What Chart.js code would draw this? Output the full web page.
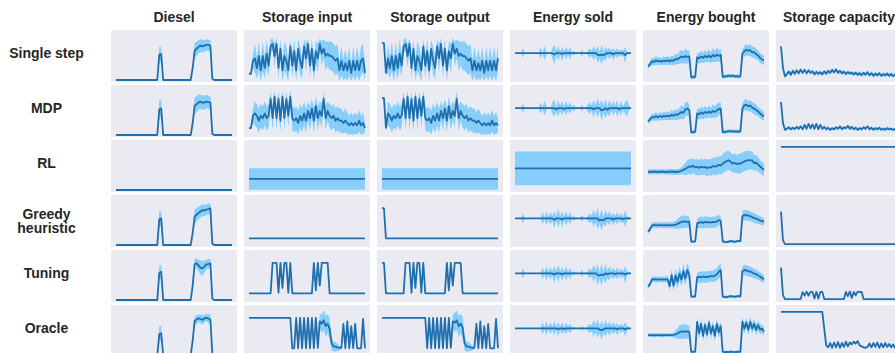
<!DOCTYPE html>
<html>
<head>
<meta charset="utf-8">
<script src="https://cdn.jsdelivr.net/npm/chart.js"></script>
<style>
  body { margin: 0; background: #fff; width: 895px; height: 353px; overflow: hidden; position: relative;
         font-family: "Liberation Sans", Arial, Helvetica, sans-serif; color: #262626; }
  .panel { position: absolute; background: #eaeaf2; }
  .panel canvas { position: absolute; left: 0; top: 0; }
  .coltitle { position: absolute; font-weight: bold; font-size: 14px; line-height: 16px; text-align: center; white-space: nowrap; }
  .rowlabel { position: absolute; left: 0; width: 93px; font-weight: bold; font-size: 14px; line-height: 14px; text-align: center; white-space: pre; }
</style>
</head>
<body>
<script>
// rows and columns of the grid
const methods = ['Single step', 'MDP', 'RL', 'Greedy\nheuristic', 'Tuning', 'Oracle'];
const quantities = ['Diesel', 'Storage input', 'Storage output', 'Energy sold', 'Energy bought', 'Storage capacity'];

// mean curves and band half-widths per quantity, one row per method (60 time steps)
const dieselMean = [
  [0,0,0,0,0,0,0,0,0,0, 0,0,0,0,0,0,0,0,0,0, 0,0,10.5,10.8,0,0,0,0,0,0, 0,0,0,0,0,0,0,0,0,5, 12.2,13,13.8,14.4,14,14.3,14.6,14.6,14.3,0.5, 0,0,0,0,0,0,0,0,0,0],
  [0,0,0,0,0,0,0,0,0,0, 0,0,0,0,0,0,0,0,0,0, 0,0,10.6,11.1,0,0,0,0,0,0, 0,0,0,0,0,0,0,0,0,5, 12.2,12.8,13.6,13.9,13.4,13.6,13.9,13.7,13.6,0.5, 0,0,0,0,0,0,0,0,0,0],
  [0,0,0,0,0,0,0,0,0,0, 0,0,0,0,0,0,0,0,0,0, 0,0,0,0,0,0,0,0,0,0, 0,0,0,0,0,0,0,0,0,0, 0,0,0,0,0,0,0,0,0,0, 0,0,0,0,0,0,0,0,0,0],
  [0,0,0,0,0,0,0,0,0,0, 0,0,0,0,0,0,0,0,0,0, 0,0,10.7,11.1,0,0,0,0,0,0, 0,0,0,0,0,0,0,0,0,5, 11.8,12.6,13.4,14,14.6,14.3,14.8,15,15.3,0.5, 0,0,0,0,0,0,0,0,0,0],
  [0,0,0,0,0,0,0,0,0,0, 0,0,0,0,0,0,0,0,0,0, 0,0,11.2,11.8,0,0,0,0,0,0, 0,0,0,0,0,0,0,0,0,6, 15,15.3,14.4,13.4,13.2,14,14.8,15,15.3,0.5, 0,0,0,0,0,0,0,0,0,0],
  [0,0,0,0,0,0,0,0,0,0, 0,0,0,0,0,0,0,0,0,0, 0,0,8.6,9,0,0,0,0,0,0, 0,0,0,0,0,0,0,0,0,6, 14.2,14.8,15.3,15,14.6,15.3,15.5,15.2,14.8,0.5, 0,0,0,0,0,0,0,0,0,0]
];
const dieselBand = [
  [0,0,0,0,0,0,0,0,0,0, 0,0,0,0,0,0,0,0,0,0, 0,0,3.5,3,0,0,0,0,0,0, 0,0,0,0,0,0,0,0,0,1.5, 3.2,3,2.8,2.6,2.6,2.4,2.4,2.3,2.2,0.5, 0,0,0,0,0,0,0,0,0,0],
  [0,0,0,0,0,0,0,0,0,0, 0,0,0,0,0,0,0,0,0,0, 0,0,4,3.5,0,0,0,0,0,0, 0,0,0,0,0,0,0,0,0,1.5, 3.5,3.3,3.2,3,3,3,2.8,2.8,2.6,0.5, 0,0,0,0,0,0,0,0,0,0],
  [0,0,0,0,0,0,0,0,0,0, 0,0,0,0,0,0,0,0,0,0, 0,0,0,0,0,0,0,0,0,0, 0,0,0,0,0,0,0,0,0,0, 0,0,0,0,0,0,0,0,0,0, 0,0,0,0,0,0,0,0,0,0],
  [0,0,0,0,0,0,0,0,0,0, 0,0,0,0,0,0,0,0,0,0, 0,0,3.5,3,0,0,0,0,0,0, 0,0,0,0,0,0,0,0,0,1.5, 3,2.8,2.6,2.5,2.4,2.4,2.2,2.2,2,0.5, 0,0,0,0,0,0,0,0,0,0],
  [0,0,0,0,0,0,0,0,0,0, 0,0,0,0,0,0,0,0,0,0, 0,0,3,2.8,0,0,0,0,0,0, 0,0,0,0,0,0,0,0,0,1.5, 2,2,2.5,3,3,2.5,2,2,2,0.5, 0,0,0,0,0,0,0,0,0,0],
  [0,0,0,0,0,0,0,0,0,0, 0,0,0,0,0,0,0,0,0,0, 0,0,3.5,3,0,0,0,0,0,0, 0,0,0,0,0,0,0,0,0,1.5, 2,1.8,1.6,1.8,2,1.6,1.5,1.8,2,0.5, 0,0,0,0,0,0,0,0,0,0]
];

const storageInMean = [
  [2.6,2.6,8, 9,5,10,4,10,5,11,6, 14,15,10,15, 5,13,4,10,8,4, 14,6,12,4,13,8, 5,14,9,15,6,13,4, 12,9,15,11,13,10, 11,10,10,9,8, 9,4,8,4,7,4,8,3,8,4,8,4,8,9, 3],
  [2.9,2.9,8, 9,8,6,8,7,9,7, 8,15,7,16,7,15,6,16,7,15,8, 16,7, 6,7,5,8,6,9,6,10, 7,11,6,12,7,10,8,15, 7,10, 8,7,8,6,7,6,6,5,6,5,4,5, 4,5,4,6,4,5,3],
  [4.6,4.6,4.6,4.6,4.6,4.6,4.6,4.6,4.6,4.6, 4.6,4.6,4.6,4.6,4.6,4.6,4.6,4.6,4.6,4.6, 4.6,4.6,4.6,4.6,4.6,4.6,4.6,4.6,4.6,4.6, 4.6,4.6,4.6,4.6,4.6,4.6,4.6,4.6,4.6,4.6, 4.6,4.6,4.6,4.6,4.6,4.6,4.6,4.6,4.6,4.6, 4.6,4.6,4.6,4.6,4.6,4.6,4.6,4.6,4.6,4.6],
  [2.8,2.8,2.8,2.8,2.8,2.8,2.8,2.8,2.8,2.8, 2.8,2.8,2.8,2.8,2.8,2.8,2.8,2.8,2.8,2.8, 2.8,2.8,2.8,2.8,2.8,2.8,2.8,2.8,2.8,2.8, 2.8,2.8,2.8,2.8,2.8,2.8,2.8,2.8,2.8,2.8, 2.8,2.8,2.8,2.8,2.8,2.8,2.8,2.8,2.8,2.8, 2.8,2.8,2.8,2.8,2.8,2.8,2.8,2.8,2.8,2.8],
  [2.8,2.8,2.8,2.8,2.8,2.8,2.8,2.8,2.8,2.8, 2.8,2.8,15.5,15.5,15.5,3,15.5,5,15.5,15.5, 3,15.5,2.8,2.8,2.8,2.8,2.8,2.8,2.8,2.8, 2.8,2.8,2.8,15.5,4,15.5,6,15.5,15.5,15.5, 15.5,2.8,2.8,2.8,2.8,2.8,2.8,2.8,2.8,2.8, 2.8,2.8,2.8,2.8,2.8,2.8,2.8,2.8,2.8,2.8],
  [15.5,15.5,15.5,15.5,15.5,15.5,15.5,15.5,15.5,15.5, 15.5,15.5,15.5,15.5,15.5,15.5,15.5,15.5,15.5,15.5, 15.5,15.5,2.8,2.8,15.5,2.8,15.5,2.8,15.5,2.8, 15.5,2.8,15.5,2.8,15.5,3,14,13,14.5,12, 13,11,5,3.5,3.5,3.2,3,3,13,2.8, 14,2.8,12,2.8,13,2.8,2.8,2.8,15,2.8]
];
const storageInBand = [
  [0.3,0.3,3, 6,4.5,6,4.5,6,4.5,6,4.5, 3,2.5,5,2.5, 4.5,4,4.5,6,6,4.5, 3,5,5,4.5,4,6, 4.5,3,6,2.5,5,4,4.5, 4.5,6,2.5,5,4,6, 5,6,6,6,6, 6,4.5,6,4.5,6,4.5,6,4,6,4.5,6,4.5,6,6, 3],
  [0.3,0.3,3, 5,5,5,5,5,5,5, 5,3,5,2.5,5,3,5,2.5,5,3,5, 2.5,5, 5,5,5,5,5,5,5,4, 5,4,5,4,5,4,5,3, 5,4, 5,5,5,5,5,5,5,4.5,5,4.5,4,4.5, 4,4.5,4,4.5,4,4.5,2],
  [4.5,4.5,4.5,4.5,4.5,4.5,4.5,4.5,4.5,4.5, 4.5,4.5,4.5,4.5,4.5,4.5,4.5,4.5,4.5,4.5, 4.5,4.5,4.5,4.5,4.5,4.5,4.5,4.5,4.5,4.5, 4.5,4.5,4.5,4.5,4.5,4.5,4.5,4.5,4.5,4.5, 4.5,4.5,4.5,4.5,4.5,4.5,4.5,4.5,4.5,4.5, 4.5,4.5,4.5,4.5,4.5,4.5,4.5,4.5,4.5,4.5],
  [0,0,0,0,0,0,0,0,0,0, 0,0,0,0,0,0,0,0,0,0, 0,0,0,0,0,0,0,0,0,0, 0,0,0,0,0,0,0,0,0,0, 0,0,0,0,0,0,0,0,0,0, 0,0,0,0,0,0,0,0,0,0],
  [0,0,0,0,0,0,0,0,0,0, 0,0,0,0,0,0,0,0,0,0, 0,0,0,0,0,0,0,0,0,0, 0,0,0,0,0,0,0,0,0,0, 0,0,0,0,0,0,0,0,0,0, 0,0,0,0,0,0,0,0,0,0],
  [0,0,0,0,0,0,0,0,0,0, 0,0,0,0,0,0,0,0,0,0, 0,0,0,0,0,0,0,0,0,0, 0,0,0,0,0,1,3,4,4,4.5, 4,4.5,3,2,2,1.5,1,0.5,0,0, 1,0,0,0,1,0,0,0,1,0]
];

const storageOutMean = [
  [15.4,15.4,3, 9,5,10,4,10,5,11,6, 14,15,10,15, 5,13,4,10,8,4, 14,6,12,4,13,8, 5,14,9,15,6,13,4, 12,9,15,11,13,10, 11,10,10,9,8, 9,4,8,4,7,4,8,3,8,4,8,4,8,4, 9],
  [15.4,15.4,3, 9,8,6,8,7,9,7, 8,15,7,16,7,15,6,16,7,15,8, 16,7, 6,7,5,8,6,9,6,10, 7,11,6,12,7,10,8,15, 7,10, 8,7,8,6,7,6,6,5,6,5,4,5, 4,5,4,6,4,5,4],
  [4.6,4.6,4.6,4.6,4.6,4.6,4.6,4.6,4.6,4.6, 4.6,4.6,4.6,4.6,4.6,4.6,4.6,4.6,4.6,4.6, 4.6,4.6,4.6,4.6,4.6,4.6,4.6,4.6,4.6,4.6, 4.6,4.6,4.6,4.6,4.6,4.6,4.6,4.6,4.6,4.6, 4.6,4.6,4.6,4.6,4.6,4.6,4.6,4.6,4.6,4.6, 4.6,4.6,4.6,4.6,4.6,4.6,4.6,4.6,4.6,4.6],
  [15.5,15.3,2.8,2.8,2.8,2.8,2.8,2.8,2.8,2.8, 2.8,2.8,2.8,2.8,2.8,2.8,2.8,2.8,2.8,2.8, 2.8,2.8,2.8,2.8,2.8,2.8,2.8,2.8,2.8,2.8, 2.8,2.8,2.8,2.8,2.8,2.8,2.8,2.8,2.8,2.8, 2.8,2.8,2.8,2.8,2.8,2.8,2.8,2.8,2.8,2.8, 2.8,2.8,2.8,2.8,2.8,2.8,2.8,2.8,2.8,2.8],
  [15.5,15.5,2.8,2.8,2.8,2.8,2.8,2.8,2.8,2.8, 2.8,2.8,15.5,15.5,15.5,3,15.5,5,15.5,15.5, 3,15.5,2.8,2.8,2.8,2.8,2.8,2.8,2.8,2.8, 2.8,2.8,2.8,15.5,4,15.5,6,15.5,15.5,15.5, 15.5,2.8,2.8,2.8,2.8,2.8,2.8,2.8,2.8,2.8, 2.8,2.8,2.8,2.8,2.8,2.8,2.8,2.8,2.8,2.8],
  [15.5,15.5,15.5,15.5,15.5,15.5,15.5,15.5,15.5,15.5, 15.5,15.5,15.5,15.5,15.5,15.5,15.5,15.5,15.5,15.5, 15.5,15.5,15.5,2.8,15.5,2.8,15.5,2.8,15.5,2.8, 15.5,2.8,15.5,2.8,15.5,3,14,13.5,14.5,12, 13,11.5,5,3.5,3.5,3.2,3,3,13,2.8, 14,2.8,12,2.8,13,2.8,2.8,2.8,15,2.8]
];
const storageOutBand = [
  [0.3,0.3,1, 6,4.5,6,4.5,6,4.5,6,4.5, 3,2.5,5,2.5, 4.5,4,4.5,6,6,4.5, 3,5,5,4.5,4,6, 4.5,3,6,2.5,5,4,4.5, 4.5,6,2.5,5,4,6, 5,6,6,6,6, 6,4.5,6,4.5,6,4.5,6,4,6,4.5,6,4.5,6,4.5, 5],
  [0.3,0.3,1, 5,5,5,5,5,5,5, 5,3,5,2.5,5,3,5,2.5,5,3,5, 2.5,5, 5,5,5,5,5,5,5,4, 5,4,5,4,5,4,5,3, 5,4, 5,5,5,5,5,5,5,4.5,5,4.5,4,4.5, 4,4.5,4,4.5,4,4.5,3],
  [4.5,4.5,4.5,4.5,4.5,4.5,4.5,4.5,4.5,4.5, 4.5,4.5,4.5,4.5,4.5,4.5,4.5,4.5,4.5,4.5, 4.5,4.5,4.5,4.5,4.5,4.5,4.5,4.5,4.5,4.5, 4.5,4.5,4.5,4.5,4.5,4.5,4.5,4.5,4.5,4.5, 4.5,4.5,4.5,4.5,4.5,4.5,4.5,4.5,4.5,4.5, 4.5,4.5,4.5,4.5,4.5,4.5,4.5,4.5,4.5,4.5],
  [0,0,0,0,0,0,0,0,0,0, 0,0,0,0,0,0,0,0,0,0, 0,0,0,0,0,0,0,0,0,0, 0,0,0,0,0,0,0,0,0,0, 0,0,0,0,0,0,0,0,0,0, 0,0,0,0,0,0,0,0,0,0],
  [0,0,0,0,0,0,0,0,0,0, 0,0,0,0,0,0,0,0,0,0, 0,0,0,0,0,0,0,0,0,0, 0,0,0,0,0,0,0,0,0,0, 0,0,0,0,0,0,0,0,0,0, 0,0,0,0,0,0,0,0,0,0],
  [0,0,0,0,0,0,0,0,0,0, 0,0,0,0,0,0,0,0,0,0, 0,0,0,0,0,0,0,0,0,0, 0,0,0,0,0,1,3,4,4,4.5, 4,4.5,3,2,2,1.5,1,0.5,0,0, 1,0,0,0,1,0,0,0,1,0]
];

const energySoldMean = [
  [11.2,11.2,11.2,11.2,11.2,11.2,11.2,11.2,11.2,11.2, 11.2,11.2,11.2,11.2,11.2,11.2,11.2,11.2,11.2,11.2, 10.6,11.2,11.2,11.2,10.9,11.2,11.2,11.2,11.2,11.2, 11.2,11.2,11.2,11.2,11.2,11.2,11.2,11.2,11.2,11.2, 11.2,11.2,10.6,10.3,10.6,10.4,10.8,11.2,11.2,11.2, 10.7,11.2,11.2,11.2,11.2,11.2,10.4,11.2,11.2,11.2],
  [11.2,11.2,11.2,11.2,11.2,11.2,11.2,11.2,11.2,11.2, 11.2,11.2,11.2,11.2,11.2,11.2,11.2,11.2,11.2,11.2, 11.2,10.7,11.2,11.2,11.2,10.9,11.2,11.2,11.2,11.2, 11.2,11.2,11.2,11.2,11.2,11.2,11.2,11.2,11.2,11.2, 10.8,11.2,11.2,11.2,10.3,10.6,11.2,10.5,11.2,11.2, 11.2,11.2,11.2,10.8,11.2,11.2,11.2,11.2,11.2,11.2],
  [9,9,9,9,9,9,9,9,9,9, 9,9,9,9,9,9,9,9,9,9, 9,9,9,9,9,9,9,9,9,9, 9,9,9,9,9,9,9,9,9,9, 9,9,9,9,9,9,9,9,9,9, 9,9,9,9,9,9,9,9,9,9],
  [11.1,11.1,11.1,11.1,11.1,11.1,11.1,11.1,11.1,11.1, 11.1,11.1,11.1,11.1,11.1,11.1,11.1,11.1,11.1,11.1, 10.5,11.1,11.1,11.1,10.7,11.1,11.1,11.1,11.1,11.1, 11.1,11.1,11.1,11.1,11.1,11.1,11.1,11.1,11.1,11.1, 11.1,11.1,11.1,10.2,10.5,10.3,11.1,11.1,11.1,11.1, 10.6,11.1,11.1,11.1,11.1,10.8,11.1,11.1,11.1,11.1],
  [11.1,11.1,11.1,11.1,11.1,11.1,11.1,11.1,11.1,11.1, 11.1,11.1,11.1,11.1,11.1,11.1,11.1,11.1,11.1,11.1, 10.6,11.1,11.1,11.1,10.8,11.1,11.1,11.1,11.1,11.1, 11.1,11.1,11.1,11.1,11.1,11.1,11.1,11.1,11.1,11.1, 11.1,11.1,10.5,10.2,10.6,10.4,11.1,10.7,11.1,11.1, 11.1,10.8,11.1,11.1,11.1,11.1,10.6,11.1,11.1,11.1],
  [11.1,11.1,11.1,11.1,11.1,11.1,11.1,11.1,11.1,11.1, 11.1,11.1,11.1,11.1,11.1,11.1,11.1,11.1,11.1,11.1, 11.1,11.1,10.8,11.1,11.1,10.9,11.1,11.1,11.1,11.1, 11.1,11.1,11.1,11.1,11.1,11.1,11.1,11.1,11.1,11.1, 11.1,11.1,11.1,10.6,10.4,10.7,11.1,11.1,11.1,11.1, 11.1,11.1,10.8,11.1,11.1,11.1,10.7,11.1,11.1,11.1]
];
const energySoldBand = [
  [0,0,0,0,2,0,0,0,0,0, 0,0,0,2.5,0.3,3,0.5,0.3,0,2, 4,1,3,0.8,3,0.8,2.5,0.8,2.5,0.5, 1,0,0,0,1.5,0,0,1,2,1, 3,1.2,3.5,1.5,4,1.5,3,1.2,2.5,1, 2.5,1,2,1,1.5,1,3.5,0.5,0.3,0],
  [0,0,0,0,2,0,0,0,0,0, 0,0,0,2.5,0.5,3,0.8,0.3,0,2.5, 3.5,1,3.5,1,3,1,3,1,2.5,0.5, 1.5,0,0,0,1.5,0,0,1.5,2.5,1.2, 3.5,1.5,4,1.5,4.5,1.5,4,1.5,3.5,1.2, 3,1.2,3.5,1,3,0.8,2.5,3.5,1,0],
  [7,7,7,7,7,7,7,7,7,7, 7,7,7,7,7,7,7,7,7,7, 7,7,7,7,7,7,7,7,7,7, 7,7,7,7,7,7,7,7,7,7, 7,7,7,7,7,7,7,7,7,7, 7,7,7,7,7,7,7,7,7,7],
  [0,0,0,0,2,0,0,0,0,0, 0,0,0,0,2.5,0.5,3,0.8,2.5,1, 3.5,1,4,1,3.5,0.8,3,0.8,2.5,0.5, 1,0,0,0,1.5,0,0,1,2,1.2, 3.5,1.5,4.5,1.5,4.5,1.5,3.5,1.5,3,1.2, 2.5,1.2,2.5,1,2,1,3.5,1,0.3,0],
  [0,0,0,0,2,0,0,0,0,0, 0,0,0,0,2.5,0.5,3,0.8,2.5,1, 3.5,1,3.5,1,3,0.8,3,0.8,2.5,0.5, 1,0,0,0,1.5,0,0,1,2,1.2, 3.5,1.5,4.5,1.5,4.5,1.5,4,1.5,3,1.2, 2.5,1.2,2.5,1,2,1,3.5,1,0.3,0],
  [0,0,0,0,0,0,0,0,0,0, 0,0,0,0,2.5,0.5,3,0.5,2.5,0.8, 3,0.8,3,0.8,2.5,0.8,2.5,0.8,2,0.5, 0.5,0,0,0,1,0,0,1,2,1.2, 3.5,1.5,4,1.5,4,1.5,3.5,1.5,3,1.2, 2.5,1.2,2.5,1,2,1,3,1,0.3,0]
];

const energyBoughtMean = [
  [5.7,6.5,7.8,7.5,8.2,7.8,8,7.6,8.1,7.9, 8.2,7.7,8.3,8,8.8,8.6,9.3,9.8,9.4,10, 9.6,9.8,1.1,1.2,1.3,9.5,9,9.8,9.2,10, 9.5,10.2,9.4,10.4,9.8,10.6,10,10.5,1.3,1.5, 1.5,1.8,1.6,1.8,1.5,1.6,1.4,1.5,11,12, 12.6,12.2,12.4,11.5,11.6,10.8,10.2,9.2,8.5,8.3],
  [5.7,6.4,7.5,7.3,7.8,7.4,7.9,7.5,8,7.7, 8.1,7.8,8.4,8,8.6,8.4,9,9.6,9.2,10.6, 11,10.4,1.1,1.2,1.3,9,8.6,9.4,8.8,9.6, 9.2,9.8,9.2,10,9.6,10.2,10.8,11,1.2,1.3, 1.4,1.6,1.5,1.6,1.4,1.5,1.4,1.5,11,12.4, 12.6,12,12.2,11.4,11,10.4,9.8,9,8.2,7.8],
  [7.6,7.5,7.7,7.6,7.6,7.5,7.7,7.6,7.6,7.5, 7.6,7.7,7.6,7.6,7.5,7.6,7.7,8,8.4,8.8, 9.4,9.8,9.6,10.2,9.4,9.6,9.2,9.8,9.4,9.6, 9.1,9.5,9.3,10,9.7,9.9,10.5,10.2,11,11.6, 12,12.4,11.8,11,11.3,10.8,11.1,10.9,11.5,11.9, 12.2,12.5,12.2,12.4,11.2,11.4,10.6,9.8,9,8.4],
  [5.5,6.5,8.2,8.3,8.3,8.2,8.3,8.3,8.2,8.3, 8.3,8.2,8.3,8.3,8.5,8.8,9.2,9.6,9.7,9.8, 9.6,9.7,1.4,1.4,1.5,9,9.3,9.5,9.2,9.6, 9.4,9.5,9.3,9.6,9.5,9.8,10.4,10,1.5,1.3, 1.2,1.4,1.6,1.5,1.3,1.5,1.7,1.6,12,12.5, 12.4,12.2,12,11.6,11.2,11,10.6,10.2,9.9,9.7],
  [5.6,6.6,8.6,8.6,8.6,8.5,8.6,8.6,8.5,8.6, 8.6,5.8,10.4,6,10.2,7.6,11,8.5,12,9, 12.5,10.5,1.4,1.4,1.5,9.5,9.6,9.4,9.8,9.5, 9.7,9.6,10,9.8,10.2,10.6,11.8,12.4,1.4,1.3, 1.2,1.4,1.6,1.5,1.3,1.5,1.6,1.5,12,12.5, 12.4,12,11.8,11.5,11,10.8,10.2,9.8,9.2,8.6],
  [8.3,8.3,8.3,8.2,8.3,8.3,8.3,8.2,8.3,8.3, 8.3,8.3,8.3,8.4,8.6,9,9.5,9.7,9.8,9.7, 9.8,9.6,1.3,1.3,1.4,13.8,9,13,8,12.5, 8.5,13.5,9,12,8,13,9.5,12,1.3,1.2, 1.3,1.2,1.4,1.3,1.2,1.3,1.4,1.3,13.9,11, 13.5,10.5,13.8,11,13,10.4,12.5,10.6,11,9.7]
];
const energyBoughtBand = [
  [1,1.2,1.5,1.5,1.8,1.5,1.6,1.5,1.8,1.6, 1.8,1.6,2,1.8,2.2,2,2.5,2.8,2.5,3, 2.8,2.5,0.8,0.8,0.8,2,2.2,2.5,2.2,2.5, 2.2,2.5,2.2,2.8,2.4,2.8,2.5,2.5,0.8,0.8, 0.8,0.8,0.8,0.8,0.8,0.8,0.8,0.8,2,2.2, 2.4,2.2,2.4,2.2,2.3,2.2,2,2,2,1.8],
  [1,1.2,1.5,1.5,1.8,1.5,1.6,1.5,1.8,1.6, 1.8,1.6,2,1.8,2.2,2,2.5,2.8,2.5,3, 2.8,2.5,0.8,0.8,0.8,2,2.2,2.5,2.2,2.5, 2.2,2.5,2.2,2.8,2.4,2.8,2.5,2.5,0.8,0.8, 0.8,0.8,0.8,0.8,0.8,0.8,0.8,0.8,2,2.2, 2.4,2.2,2.4,2.2,2.3,2.2,2,2,2,1.8],
  [1,1,1,1,1,1,1,1,1,1, 1.2,1.2,1.2,1.2,1.2,1.2,1.2,1.5,2,2.5, 3,3,3.2,3,3.2,3.4,3.2,3.4,3.2,3.4, 3.5,3.4,3.6,3.5,3.6,3.8,3.6,3.8,4,4, 4.2,4,3.8,3.8,4,3.8,4,4.2,4,4.2, 4,4,3.8,3.6,3.4,3.2,3,2.8,2.6,2.6],
  [0.8,1,1.2,1.2,1.2,1.2,1.2,1.2,1.2,1.2, 1.2,1.2,1.3,1.4,1.6,2,2.4,2.6,2.6,2.5, 2.5,2.2,0.6,0.6,0.6,2,2.2,2.4,2.3,2.4, 2.3,2.4,2.2,2.4,2.3,2.4,2.2,2,0.6,0.6, 0.6,0.6,0.6,0.6,0.6,0.6,0.6,0.6,2,2.2, 2.2,2.2,2.1,2,2,1.9,1.8,1.8,1.7,1.6],
  [0.8,1,1.2,1.2,1.2,1.2,1.2,1.2,1.2,1.2, 1.4,2,2.5,2.5,2.8,2.8,3,2.8,3,2.8, 3,2.6,0.6,0.6,0.6,2,2.2,2.4,2.3,2.4, 2.3,2.4,2.2,2.4,2.5,2.6,2.8,2.5,0.6,0.6, 0.6,0.6,0.6,0.6,0.6,0.6,0.6,0.6,2,2.2, 2.2,2.2,2.1,2,2,1.9,1.8,1.8,1.7,1.6],
  [0.8,0.8,0.8,0.8,0.8,0.8,0.8,0.8,0.8,0.8, 0.8,0.8,0.8,1,1.5,2.2,2.8,3,3,3, 2.8,2.5,0.6,0.6,0.6,2,2.5,2,2.5,2, 2.5,2,2.5,2,2.5,2,2.5,2,0.6,0.6, 0.6,0.6,0.6,0.6,0.6,0.6,0.6,0.6,2,2.2, 2,2.2,2,2.2,2,2.2,2,2,1.8,1.6]
];

const capacityMean = [
  [14,5,1.5, 2.5,3.5,2.2,3.8,2.6,4,2.8,4.3,3,4.2,2.8,4,3,3.6,2.4,3.4,2.6,3.2, 2.4,3.6,2.6,3.8,3,4.2,3.2,4.4,3,3.8,2.8,3.4,2.6,3.2,2.8,3,2.4,3,2.2,2.8, 2,3,2.2,3.2,2,2.8,1.8,2.6,2,2.8,1.8,2.4,2,2.6,1.8,2.4,1.7,2.2,1.8],
  [13.75,5,2.2, 2.6,3.2,2.4,3,2.5,3.4,2.6,3.6,2.4,4.2,2.6,4.6,2.8,4.4,2.6,4.6,2.4,4.2, 2.6,3.4,2.4,3,2.2,2.8,2.4,3.2,2.6,3.6,2.4,3.2,2.8,3.8,2.6,3.4,2.4,3,2.2,2.8, 2.4,3.2,2.6,3.6,2.4,3,2.2,2.8,2.4,3,2.2,2.6,2.2,2.8,2.4,2.6,2.2,2.4,2.2],
  [18,18,18,18,18,18,18,18,18,18, 18,18,18,18,18,18,18,18,18,18, 18,18,18,18,18,18,18,18,18,18, 18,18,18,18,18,18,18,18,18,18, 18,18,18,18,18,18,18,18,18,18, 18,18,18,18,18,18,18,18,18,18],
  [13.9,2,0.4,0.4,0.4,0.4,0.4,0.4,0.4,0.4, 0.4,0.4,0.4,0.4,0.4,0.4,0.4,0.4,0.4,0.4, 0.4,0.4,0.4,0.4,0.4,0.4,0.4,0.4,0.4,0.4, 0.4,0.4,0.4,0.4,0.4,0.4,0.4,0.4,0.4,0.4, 0.4,0.4,0.4,0.4,0.4,0.4,0.4,0.4,0.4,0.4, 0.4,0.4,0.4,0.4,0.4,0.4,0.4,0.4,0.4,0.4],
  [13.5,2,0.4,0.4,0.4,0.4,0.4,0.4,0.4,0.4, 0.4,3.3,1.8,3.5,1.8,3.4,3.4,0.6,3.4,0.6, 3.4,3.4,0.4,0.4,0.4,0.4,0.4,0.4,0.4,0.4, 0.4,0.4,0.4,3.4,1.6,3.5,0.8,3.4,2,3.5, 3.3,3.4,0.4,0.4,0.4,0.4,0.4,0.4,0.4,0.4, 0.4,0.4,0.4,0.4,0.4,0.4,0.4,0.4,0.4,0.4],
  [18,18,18,18,18,18,18,18,18,18, 18,18,18,18,18,18,18,18,18,18, 18,18,11,4,3.2,5,3,5.2,3.2,5.4, 3,5,3.4,5.6,3.6,5.2,4.5,5.5,4.8,5.8, 4,3.6,3.2,3,3.4,4.8,3.2,5,3.4,5.2, 3,4.8,3.2,5,3.4,4.6,3.2,4.4,3,4.2]
];
const capacityBand = [
  [0.3,0.5,0.7,0.8,0.8,0.8,0.8,0.8,0.8,0.8, 0.8,0.8,0.8,0.8,0.8,0.8,0.8,0.8,0.8,0.8, 0.8,0.8,0.8,0.8,0.8,0.8,0.8,0.8,0.8,0.8, 0.8,0.8,0.8,0.8,0.8,0.8,0.8,0.8,0.8,0.8, 0.8,0.8,0.8,0.8,0.8,0.8,0.8,0.8,0.8,0.8, 0.8,0.8,0.8,0.8,0.8,0.8,0.8,0.8,0.8,0.8],
  [0.3,0.5,0.6,0.6,0.6,0.6,0.6,0.6,0.6,0.6, 0.6,0.6,0.6,0.6,0.6,0.6,0.6,0.6,0.6,0.6, 0.6,0.6,0.6,0.6,0.6,0.6,0.6,0.6,0.6,0.6, 0.6,0.6,0.6,0.6,0.6,0.6,0.6,0.6,0.6,0.6, 0.6,0.6,0.6,0.6,0.6,0.6,0.6,0.6,0.6,0.6, 0.6,0.6,0.6,0.6,0.6,0.6,0.6,0.6,0.6,0.6],
  [0,0,0,0,0,0,0,0,0,0, 0,0,0,0,0,0,0,0,0,0, 0,0,0,0,0,0,0,0,0,0, 0,0,0,0,0,0,0,0,0,0, 0,0,0,0,0,0,0,0,0,0, 0,0,0,0,0,0,0,0,0,0],
  [0,0,0,0,0,0,0,0,0,0, 0,0,0,0,0,0,0,0,0,0, 0,0,0,0,0,0,0,0,0,0, 0,0,0,0,0,0,0,0,0,0, 0,0,0,0,0,0,0,0,0,0, 0,0,0,0,0,0,0,0,0,0],
  [0,0,0,0,0,0,0,0,0,0, 0,0,0,0,0,0,0,0,0,0, 0,0,0,0,0,0,0,0,0,0, 0,0,0,0,0,0,0,0,0,0, 0,0,0,0,0,0,0,0,0,0, 0,0,0,0,0,0,0,0,0,0],
  [0,0,0,0,0,0,0,0,0,0, 0,0,0,0,0,0,0,0,0,0, 0,0,0,0.3,0.4,0.4,0.4,0.4,0.4,0.4, 0.4,0.4,0.4,0.4,0.4,0.4,0.6,0.6,0.6,0.6, 0.4,0.4,0.4,0.4,0.4,0.4,0.4,0.4,0.4,0.4, 0.4,0.4,0.4,0.4,0.4,0.4,0.4,0.4,0.4,0.4]
];

const means = [dieselMean, storageInMean, storageOutMean, energySoldMean, energyBoughtMean, capacityMean];
const bands = [dieselBand, storageInBand, storageOutBand, energySoldBand, energyBoughtBand, capacityBand];

const LINE = '#1f6fae';
const BAND = '#87cefa';
const left0 = 111, colPitch = 133, panelW = 126;
const top0 = 30, rowPitch = 55, panelH = 52;

quantities.forEach((q, c) => {
  const t = document.createElement('div');
  t.className = 'coltitle';
  t.textContent = q;
  t.style.left = (left0 + c * colPitch) + 'px';
  t.style.width = panelW + 'px';
  t.style.top = '9px';
  document.body.appendChild(t);
});

methods.forEach((m, r) => {
  const lines = m.split('\n').length;
  const centerY = top0 + r * rowPitch + panelH / 2 + (lines > 1 ? 0 : -2.7);
  const l = document.createElement('div');
  l.className = 'rowlabel';
  l.textContent = m;
  l.style.top = (centerY - lines * 7) + 'px';
  document.body.appendChild(l);
});

function drawPanel(canvas, mean, band) {
  const steps = mean.map((_, i) => i);
  new Chart(canvas, {
    type: 'line',
    data: {
      labels: steps,
      datasets: [
        { data: mean.map((v, i) => v + band[i]), borderWidth: 0, pointRadius: 0, fill: '+1', backgroundColor: BAND, clip: 2, order: 2 },
        { data: mean.map((v, i) => v - band[i]), borderWidth: 0, pointRadius: 0, fill: false, clip: 2, order: 2 },
        { data: mean, borderColor: LINE, borderWidth: 1.8, borderJoinStyle: 'round', pointRadius: 0, fill: false, clip: 2, order: 0 }
      ]
    },
    options: {
      responsive: false,
      animation: false,
      devicePixelRatio: 1,
      layout: { padding: { left: 5, right: 5, top: 2, bottom: 2 } },
      plugins: { legend: { display: false }, tooltip: { enabled: false } },
      elements: { line: { tension: 0 } },
      scales: {
        x: { display: false },
        y: { display: false, min: 0, max: 20 }
      }
    }
  });
}

for (let r = 0; r < methods.length; r++) {
  for (let c = 0; c < quantities.length; c++) {
    const p = document.createElement('div');
    p.className = 'panel';
    p.style.left = (left0 + c * colPitch) + 'px';
    p.style.top = (top0 + r * rowPitch) + 'px';
    p.style.width = panelW + 'px';
    p.style.height = panelH + 'px';
    const cv = document.createElement('canvas');
    cv.width = panelW;
    cv.height = panelH;
    p.appendChild(cv);
    document.body.appendChild(p);
    drawPanel(cv, means[c][r], bands[c][r]);
  }
}
</script>
</body>
</html>
